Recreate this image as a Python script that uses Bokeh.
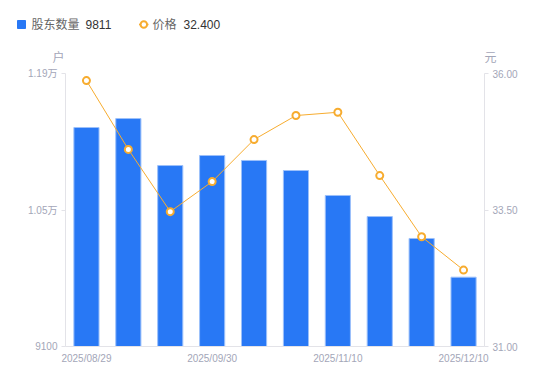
from bokeh.plotting import figure
from bokeh.layouts import column, row
from bokeh.models import Range1d, LinearAxis, FixedTicker, ColumnDataSource
from bokeh.core.properties import value
from bokeh.embed import file_html
from bokeh.resources import INLINE

dates = ["2025/08/29", "2025/09/10", "2025/09/19", "2025/09/30", "2025/10/20",
         "2025/10/31", "2025/11/10", "2025/11/20", "2025/11/28", "2025/12/10"]
holders = [11346, 11438, 10956, 11059, 11008, 10905, 10649, 10433, 10208, 9811]
price = [35.87, 34.61, 33.47, 34.02, 34.79, 35.23, 35.29, 34.13, 33.01, 32.40]
shown_dates = ["2025/08/29", "2025/09/30", "2025/11/10", "2025/12/10"]
left_ticks = [9100, 10500, 11900]
left_tick_labels = ["9100", "1.05万", "1.19万"]
right_ticks = [31, 33.5, 36]
right_tick_labels = ["31.00", "33.50", "36.00"]
series_names = ["股东数量", "价格"]
units = ["户", "元"]

BLUE = "#2878F5"
ORANGE = "#F7AC2F"
GRAY = "#a3a6b8"
AXIS = "#e3e3e8"
FONT = "Liberation Sans, Noto Sans CJK SC"

W = 550
HEAD_H = 65
FW, FH = 419, 273

# ---------- header (legend + axis units) ----------
h = figure(width=W, height=HEAD_H, x_range=Range1d(0, W), y_range=Range1d(HEAD_H, 0),
           min_border=0, min_border_left=0, min_border_right=0, min_border_top=0,
           min_border_bottom=0, output_backend="svg", toolbar_location=None)
h.axis.visible = False
h.grid.visible = False
h.outline_line_color = None

LY = 24
h.scatter(x=[21], y=[LY], marker="square", size=8, fill_color=BLUE, line_color=BLUE)
h.line(x=[138.5, 148], y=[LY, LY], line_color=ORANGE, line_width=1.5)
h.scatter(x=[143.3], y=[LY], size=6.5, fill_color="white", line_color=ORANGE, line_width=2)

def htext(xs, ys, txts, color, align="left"):
    h.text(x=xs, y=ys, text=txts, text_color=color, text_align=align,
           text_baseline="middle", text_font=value(FONT), text_font_size="12px")

htext([31, 152], [LY, LY], series_names, "#666666")
htext([85, 183], [LY, LY], [str(holders[-1]), "%.3f" % price[-1]], "#333333")
htext([58, 490], [57, 57], units, GRAY, "center")

# ---------- main chart ----------
idx = list(range(len(dates)))
src = ColumnDataSource(dict(x=idx, h=holders, p=price))

p = figure(x_range=Range1d(-0.5, len(dates) - 0.5),
           y_range=Range1d(left_ticks[0], left_ticks[-1]),
           frame_width=FW, frame_height=FH,
           min_border_left=65, min_border_right=66, min_border_top=73 - HEAD_H,
           min_border_bottom=35, output_backend="svg", toolbar_location=None)
p.extra_y_ranges = {"price": Range1d(right_ticks[0], right_ticks[-1])}
p.outline_line_color = None
p.xgrid.grid_line_color = None
p.ygrid.grid_line_color = None

p.vbar(x="x", top="h", bottom=left_ticks[0], width=0.6, source=src,
       fill_color=BLUE, line_color="#9cc0fa", line_width=1)
p.line(x="x", y="p", source=src, y_range_name="price", line_color=ORANGE, line_width=1)
p.scatter(x="x", y="p", source=src, y_range_name="price", size=7,
          fill_color="white", line_color=ORANGE, line_width=2)

ya = p.yaxis[0]
ya.ticker = FixedTicker(ticks=left_ticks)
ya.major_label_overrides = {t: l for t, l in zip(left_ticks, left_tick_labels)}

ra = LinearAxis(y_range_name="price")
ra.ticker = FixedTicker(ticks=right_ticks)
ra.major_label_overrides = {t: l for t, l in zip(right_ticks, right_tick_labels)}
p.add_layout(ra, "right")

xa = p.xaxis[0]
shown_idx = [dates.index(d) for d in shown_dates]
xa.ticker = FixedTicker(ticks=shown_idx)
xa.major_label_overrides = {i: dates[i] for i in shown_idx}

for ax in [ya, ra, xa]:
    ax.axis_line_color = AXIS
    ax.minor_tick_line_color = None
    ax.major_tick_in = 0
    ax.major_tick_out = 4
    ax.major_tick_line_color = AXIS
    ax.major_label_text_color = GRAY
    ax.major_label_text_font = FONT
    ax.major_label_text_font_size = "10px"
    ax.major_label_standoff = 4
xa.major_tick_line_color = None
xa.major_tick_out = 0
xa.major_label_standoff = 6

layout = column(row(h), row(p), spacing=0)
open("out.html", "w").write(file_html(layout, INLINE))
